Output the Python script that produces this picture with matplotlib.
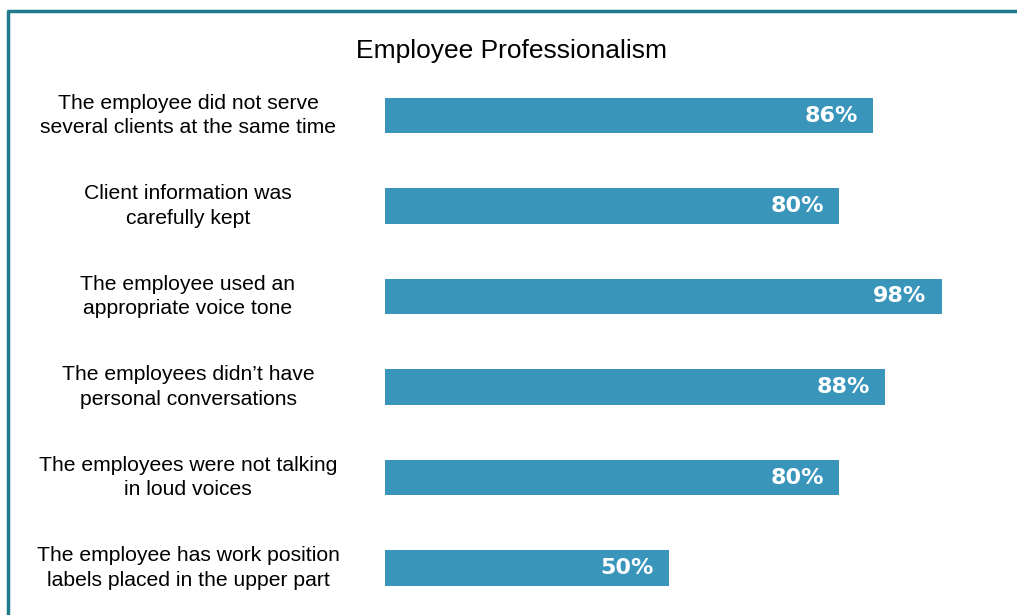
import matplotlib.pyplot as plt
from matplotlib.lines import Line2D
from matplotlib.transforms import blended_transform_factory

labels = [
    "The employee did not serve\nseveral clients at the same time",
    "Client information was\ncarefully kept",
    "The employee used an\nappropriate voice tone",
    "The employees didn\u2019t have\npersonal conversations",
    "The employees were not talking\nin loud voices",
    "The employee has work position\nlabels placed in the upper part",
]
values = [86, 80, 98, 88, 80, 50]

bar_color = "#3a95bb"
frame_color = "#1f7a8c"

fig = plt.figure(figsize=(10.17, 6.15), dpi=100)
ax = fig.add_axes([385 / 1017, 1 - 613.25 / 615, 568 / 1017, 543 / 615])

pos = range(len(values))
ax.barh(pos, values, height=0.39, color=bar_color)
ax.set_xlim(0, 100)
ax.set_ylim(5.5, -0.5)

for y, v in zip(pos, values):
    ax.annotate(f"{v}%", xy=(v, y), xytext=(-11, 0), textcoords="offset points",
                ha="right", va="center", color="white", fontsize=16,
                fontweight="bold", family="DejaVu Sans")

# category labels centred in the left margin
trans = blended_transform_factory(fig.transFigure, ax.transData)
for y, lab in zip(pos, labels):
    ax.text(188 / 1017, y, lab, transform=trans, ha="center", va="center",
            fontsize=15.2, family="Liberation Sans", linespacing=1.38)

ax.set_xticks([])
ax.set_yticks([])
for s in ax.spines.values():
    s.set_visible(False)

fig.text(511 / 1017, 1 - 51 / 615, "Employee Professionalism", ha="center",
         va="center", fontsize=19, family="Liberation Sans")

# outer frame, only top and left edges visible
fig.add_artist(Line2D([8 / 1017, 8 / 1017], [0, 1 - 10 / 615], color=frame_color,
                      lw=2.5, solid_capstyle="butt", transform=fig.transFigure))
fig.add_artist(Line2D([7 / 1017, 1], [1 - 11 / 615, 1 - 11 / 615], color=frame_color,
                      lw=2.5, solid_capstyle="butt", transform=fig.transFigure))

fig.savefig("out.png", dpi=100)
